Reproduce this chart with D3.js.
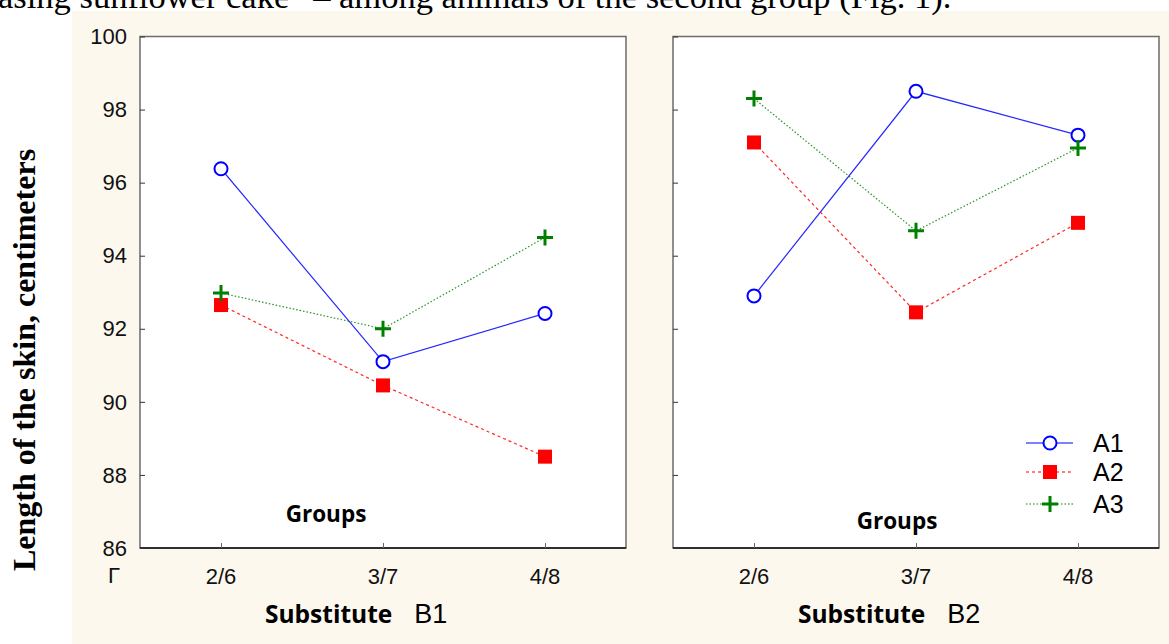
<!DOCTYPE html>
<html>
<head>
<meta charset="utf-8">
<script src="https://cdn.jsdelivr.net/npm/d3@7"></script>
<style>
  html, body { margin: 0; padding: 0; background: #ffffff; overflow: hidden; }
  svg { display: block; }
</style>
</head>
<body>
<svg id="chart" width="1169" height="644"></svg>
<script>
// ---- data ----
const categories = ["2/6", "3/7", "4/8"];
const panels = ["B1", "B2"];
const seriesNames = ["A1", "A2", "A3"];
const yTicks = [86, 88, 90, 92, 94, 96, 98, 100];
const A1_B1 = [96.38, 91.1, 92.42];
const A2_B1 = [92.65, 90.45, 88.5];
const A3_B1 = [92.98, 92.0, 94.5];
const A1_B2 = [92.9, 98.5, 97.3];
const A2_B2 = [97.1, 92.45, 94.9];
const A3_B2 = [98.3, 94.68, 96.95];
const headerText = "asing sunflower cake\u201D \u2013 among animals of the second group (Fig. 1).";
const yTitle = "Length of the skin, centimeters";

const panelData = {
  B1: { A1: A1_B1, A2: A2_B1, A3: A3_B1 },
  B2: { A1: A1_B2, A2: A2_B2, A3: A3_B2 }
};

// ---- layout ----
const svg = d3.select("#chart");
const cream = "#fdf8ee";
const colors = { A1: "#0000ff", A2: "#ff0000", A3: "#008000" };
const dashes = { A1: null, A2: "3,3", A3: "1.5,2" };
const sans = "'Liberation Sans', Arial, sans-serif";
const serif = "'Liberation Serif', 'Times New Roman', serif";
const bold = "'Open Sans', sans-serif";

svg.append("rect").attr("x", 72).attr("y", 11).attr("width", 1169 - 72).attr("height", 644 - 11).attr("fill", cream);

// header text (clipped at top)
svg.append("text")
  .attr("x", -2).attr("y", 8)
  .attr("font-family", serif)
  .attr("font-size", 34.5)
  .attr("fill", "#000")
  .text(headerText);

// y title
svg.append("text")
  .attr("transform", "translate(35,360) rotate(-90)")
  .attr("text-anchor", "middle")
  .attr("font-family", serif)
  .attr("font-weight", "bold")
  .attr("font-size", 32)
  .attr("fill", "#000")
  .text(yTitle);

const y = d3.scaleLinear().domain([86, 100]).range([548, 36.5]);
const panelLeft = { B1: 140, B2: 673 };
const panelW = 486;
const groupsY = { B1: 514, B2: 521 };
const groupsDX = { B1: 186, B2: 224 };

panels.forEach(p => {
  const x0 = panelLeft[p];
  const x = d3.scalePoint().domain(categories).range([x0, x0 + panelW]).padding(0.5);
  const g = svg.append("g");

  // plot area
  g.append("rect").attr("x", x0).attr("y", y(100)).attr("width", panelW).attr("height", y(86) - y(100))
    .attr("fill", "#fff").attr("stroke", "#6b6b6b").attr("stroke-width", 1.5);
  g.append("line").attr("x1", x0).attr("x2", x0 + panelW).attr("y1", y(86)).attr("y2", y(86))
    .attr("stroke", "#111").attr("stroke-width", 1.5);

  // y ticks
  const yAxis = d3.axisRight(y).tickValues(yTicks).tickSize(5).tickFormat("");
  const ya = g.append("g").attr("transform", `translate(${x0},0)`).call(yAxis);
  ya.select(".domain").remove();
  ya.selectAll("line").attr("stroke", "#333");

  if (p === "B1") {
    g.selectAll(".ylab").data(yTicks).enter().append("text")
      .attr("x", 127).attr("y", d => y(d)).attr("dy", "0.35em")
      .attr("text-anchor", "end")
      .attr("font-family", sans).attr("font-size", 22)
      .attr("fill", "#111").text(d => d);
    g.append("text").attr("x", 108).attr("y", 583)
      .attr("font-family", sans).attr("font-size", 22)
      .attr("fill", "#111").text("\u0393");
  }

  // x ticks
  const xAxis = d3.axisTop(x).tickSize(5).tickFormat("");
  const xa = g.append("g").attr("transform", `translate(0,${y(86)})`).call(xAxis);
  xa.select(".domain").remove();
  xa.selectAll("line").attr("stroke", "#666");
  g.selectAll(".xlab").data(categories).enter().append("text")
    .attr("x", d => x(d)).attr("y", 576).attr("dy", "0.35em")
    .attr("text-anchor", "middle")
    .attr("font-family", sans).attr("font-size", 22)
    .attr("fill", "#111").text(d => d);

  // "Groups"
  g.append("text").attr("x", x0 + groupsDX[p]).attr("y", groupsY[p]).attr("dy", "0.35em")
    .attr("text-anchor", "middle")
    .attr("font-family", bold).attr("font-weight", "bold").attr("font-size", 22.5)
    .attr("fill", "#000").text("Groups");

  // "Substitute Bx"
  const lab = g.append("text").attr("x", x0 + 125).attr("y", 617).attr("dy", "0.35em")
    .attr("fill", "#000");
  lab.append("tspan").attr("font-family", bold).attr("font-weight", "bold").attr("font-size", 24.5).text("Substitute");
  lab.append("tspan").attr("dx", 22).attr("font-family", sans).attr("font-size", 27).text(p);

  // series
  const line = d3.line().x((d, i) => x(categories[i])).y(d => y(d));
  seriesNames.forEach(s => {
    const vals = panelData[p][s];
    g.append("path").datum(vals).attr("d", line)
      .attr("fill", "none").attr("stroke", colors[s]).attr("stroke-width", 1.2)
      .attr("stroke-opacity", 0.85)
      .attr("stroke-dasharray", dashes[s]);
    vals.forEach((v, i) => drawMarker(g, s, x(categories[i]), y(v)));
  });
});

function drawMarker(g, s, px, py) {
  if (s === "A1") {
    g.append("circle").attr("cx", px).attr("cy", py).attr("r", 6.5)
      .attr("fill", "#fff").attr("stroke", colors.A1).attr("stroke-width", 2);
  } else if (s === "A2") {
    g.append("rect").attr("x", px - 7).attr("y", py - 7).attr("width", 14).attr("height", 14)
      .attr("fill", colors.A2);
  } else {
    g.append("path").attr("d", `M${px - 8},${py}H${px + 8}M${px},${py - 8}V${py + 8}`)
      .attr("stroke", colors.A3).attr("stroke-width", 3).attr("fill", "none");
  }
}

// legend
const legendY = [443, 472, 504];
seriesNames.forEach((s, i) => {
  const ly = legendY[i];
  svg.append("line").attr("x1", 1026).attr("x2", 1073).attr("y1", ly).attr("y2", ly)
    .attr("stroke", colors[s]).attr("stroke-width", 1.2).attr("stroke-dasharray", dashes[s]);
  drawMarker(svg, s, 1050, ly);
  svg.append("text").attr("x", 1093).attr("y", ly).attr("dy", "0.36em")
    .attr("font-family", sans).attr("font-size", 25)
    .attr("fill", "#000").text(s);
});
</script>
</body>
</html>
